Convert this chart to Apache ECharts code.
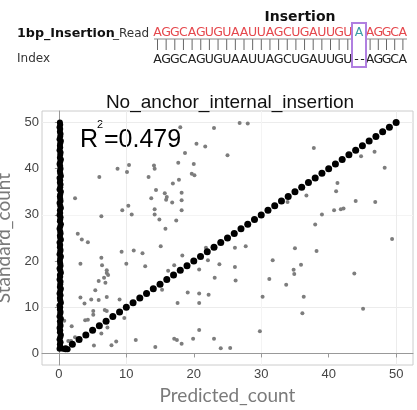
<!DOCTYPE html>
<html><head><meta charset="utf-8">
<script src="https://cdn.jsdelivr.net/npm/echarts@6/dist/echarts.min.js"></script>
<style>html,body{margin:0;padding:0;background:#fff}#c{width:417px;height:410px}</style>
</head><body><div id="c"></div>
<script>
// ---- data ----
const chartTitle = 'No_anchor_internal_insertion';
const xName = 'Predicted_count';
const yName = 'Standard_count';
const r2Text = '0.479';
const xTicks = [0, 10, 20, 30, 40, 50];
const yTicks = [0, 10, 20, 30, 40, 50];

const diagX = [1,2,3,4,5,6,7,8,9,10,11,12,13,14,15,16,17,18,19,20,21,22,23,24,25,26,27,28,29,30,31,32,33,34,35,36,37,38,39,40,41,42,43,44,45,46,47,48,49,50];
const diagY = [1,2,3,4,5,6,7,8,9,10,11,12,13,14,15,16,17,18,19,20,21,22,23,24,25,26,27,28,29,30,31,32,33,34,35,36,37,38,39,40,41,42,43,44,45,46,47,48,49,50];

const colX = [0.6,1.3,0.1,0.2,0.15,0.25,0.1,0.2,0.3,0.15,0.2,0.1,0.25,0.2,0.15,0.3,0.1,0.2,0.25,0.15,0.2,0.1,0.3,0.2,0.15,0.25,0.1,0.2,0.3,0.15,0.2,0.25,0.1,0.2,0.15,0.3,0.2,0.1,0.25,0.2,0.15,0.2,0.3,0.1,0.2,0.25,0.15,0.2,0.1,0.3,0.2,0.15,0.25,0.2,0.1,0.2,0.3,0.15,0.2,0.25,0.1,0.2,0.15,0.3,0.2,0.1,0.25,0.2,0.15,0.2,0.3,0.1,0.2,0.25,0.15,0.2,0.1,0.3,0.2,0.15,0.25,0.2,0.1,0.2,0.3,0.15,0.2,0.25,0.1,0.2,0.15,0.2,0.3,0.1,0.2,0.25,0.15,0.2,0.1,0.2,0.15];
const colY = [1,0.9,1,1.5,2,2.4,3,3.5,4,4.6,5,5.5,6,6.4,7,7.5,8,8.6,9,9.5,10,10.4,11,11.5,12,12.6,13,13.5,14,14.4,15,15.5,16,16.6,17,17.5,18,18.4,19,19.5,20,20.6,21,21.5,22,22.4,23,23.5,24,24.6,25,25.5,26,26.4,27,27.5,28,28.6,29,29.5,30,30.4,31,31.5,32,32.6,33,33.5,34,34.4,35,35.5,36,36.6,37,37.5,38,38.4,39,39.5,40,40.6,41,41.5,42,42.4,43,43.5,44,44.6,45,45.5,46,46.4,47,47.5,48,48.6,49,49.5,50];

const greyPoints = [
[18.0,49.0],[23.0,48.8],[26.8,49.9],[28.0,49.8],
[20.4,45.4],[21.7,44.8],[37.8,44.5],
[18.7,43.4],[25.0,42.9],[44.8,42.7],[46.8,43.7],
[17.7,41.3],[20.0,41.0],[10.4,40.8],[14.1,40.7],[8.7,40.0],[10.1,39.3],[14.2,40.0],[48.3,40.2],
[19.7,38.9],[20.1,38.6],[6.0,38.2],[13.3,38.2],[17.8,37.6],[16.9,36.8],[41.3,36.9],
[14.4,35.4],[15.7,34.7],[18.2,34.8],[41.1,35.1],[36.7,34.2],
[2.4,33.6],[13.7,33.6],[16.0,33.9],[15.9,33.3],[16.8,32.7],[18.2,33.2],[33.9,32.8],[44.0,33.0],[46.9,32.8],
[10.3,32.0],[9.4,31.0],[14.2,31.2],[18.2,31.0],[40.8,31.0],[41.8,31.2],[42.2,31.4],
[10.8,30.1],[6.3,29.7],[14.2,30.1],[39.0,30.1],
[14.9,29.0],[17.4,28.8],[38.0,27.9],[15.8,27.0],
[2.8,25.9],[3.4,24.7],[4.3,24.1],[49.4,24.8],
[15.1,23.2],[21.8,22.9],[26.1,22.9],[27.7,23.2],[35.0,22.8],[38.2,22.2],
[9.3,22.0],[11.1,22.3],[12.4,21.7],[6.3,20.7],[18.3,21.2],
[22.1,20.2],[31.7,20.2],
[3.2,19.4],[6.4,19.1],[10.0,19.4],[12.8,18.9],[17.1,19.1],[23.8,19.3],[26.1,18.7],[35.9,19.2],
[7.1,18.0],[7.1,17.4],[7.3,17.0],[6.7,16.4],[16.2,17.9],[20.8,18.2],[34.8,18.1],[34.9,17.2],[43.8,17.3],
[5.9,15.7],[6.9,15.3],[23.1,16.4],[26.2,15.8],[31.2,16.1],[33.7,14.9],
[5.4,13.7],[15.3,13.8],[19.1,13.2],[20.8,13.0],[22.2,12.7],
[3.2,12.1],[4.8,11.7],[5.9,11.6],[7.1,12.2],[9.0,11.7],[30.2,12.3],[36.3,12.3],
[3.8,10.8],[17.6,10.9],[20.8,10.9],
[5.1,9.2],[5.1,8.4],[6.8,9.4],[7.1,9.2],[45.1,9.7],[36.1,8.7],
[3.9,7.2],[4.3,7.3],[9.7,7.7],[0.8,7.1],
[7.2,5.6],[1.9,5.9],[20.8,5.1],[29.8,4.8],
[6.3,4.3],[2.4,3.5],
[1.8,2.7],[2.8,2.9],[1.4,2.7],[5.2,1.7],[7.8,1.8],[8.5,2.6],[11.4,2.9],[17.1,3.2],[17.5,2.9],[18.2,2.1],[19.9,3.2],[23.0,3.2],
[14.3,1.4],[24.0,1.1],[25.4,1.2]
];

// header sequences
const seqLabel = '1bp_Insertion';
const seqLabelSuffix = '_Read';
const indexLabel = 'Index';
const insertionLabel = 'Insertion';
const readLeft = 'AGGCAGUGUAAUUAGCUGAUUGU';
const readInsert = 'A';
const readRight = 'AGGCA';
const indexLeft = 'AGGCAGUGUAAUUAGCUGAUUGU';
const indexGap = '--';
const indexRight = 'AGGCA';

// ---- build ----
const chart = echarts.init(document.getElementById('c'), null, {renderer: 'canvas'});
const seqFont = '"DejaVu Sans", Verdana, sans-serif';
const g = [];
function ch(text, cx, cy, color, size, weight) {
  g.push({type: 'text', x: cx, y: cy, style: {text: text, fill: color, font: (weight || 'normal') + ' ' + size + 'px ' + seqFont, textAlign: 'center', textVerticalAlign: 'middle'}});
}
const leftStart = 157.5, leftStep = 8.65;
const rightStart = 370.1, rightStep = 8.2;
const redC = '#e5484d', rowRead = 33, rowIdx = 60, seqSize = 12.5;
for (let i = 0; i < readLeft.length; i++) ch(readLeft[i], leftStart + i * leftStep, rowRead, redC, seqSize);
ch(readInsert, 359, rowRead, '#3a9ea5', seqSize);
for (let i = 0; i < readRight.length; i++) ch(readRight[i], rightStart + i * rightStep, rowRead, redC, seqSize);
for (let i = 0; i < indexLeft.length; i++) ch(indexLeft[i], leftStart + i * leftStep, rowIdx, '#222', seqSize);
for (let i = 0; i < indexGap.length; i++) ch(indexGap[i], 356.5 + i * 6, rowIdx, '#222', seqSize);
for (let i = 0; i < indexRight.length; i++) ch(indexRight[i], rightStart + i * rightStep, rowIdx, '#222', seqSize);
// connector ticks
const tickXs = [];
for (let i = 0; i < readLeft.length; i++) tickXs.push(leftStart + i * leftStep);
for (let i = 0; i < readRight.length; i++) tickXs.push(rightStart + i * rightStep);
tickXs.forEach(x => g.push({type: 'line', shape: {x1: x, y1: 39, x2: x, y2: 50}, style: {stroke: '#666', lineWidth: 1}}));
g.push({type: 'line', shape: {x1: 154, y1: 39, x2: 352, y2: 39}, style: {stroke: '#888', lineWidth: 1}});
g.push({type: 'line', shape: {x1: 366, y1: 39, x2: 407, y2: 39}, style: {stroke: '#888', lineWidth: 1}});
g.push({type: 'rect', shape: {x: 352, y: 23, width: 14, height: 44}, style: {fill: 'none', stroke: '#b07fe0', lineWidth: 2}});
g.push({type: 'text', x: 17, y: 34, style: {text: seqLabel, fill: '#111', font: 'bold 12.7px ' + seqFont, textVerticalAlign: 'middle'}});
g.push({type: 'text', x: 113, y: 34, style: {text: seqLabelSuffix, fill: '#333', font: '12px ' + seqFont, textVerticalAlign: 'middle'}});
g.push({type: 'text', x: 17, y: 59, style: {text: indexLabel, fill: '#333', font: '12px ' + seqFont, textVerticalAlign: 'middle'}});
g.push({type: 'text', x: 300, y: 17, style: {text: insertionLabel, fill: '#111', font: 'bold 14px ' + seqFont, textAlign: 'center', textVerticalAlign: 'middle'}});
// R^2 annotation
const annFont = '"Liberation Sans", Arial, sans-serif';
g.push({type: 'text', x: 80, y: 140, style: {text: 'R', fill: '#000', font: '25px ' + annFont, textVerticalAlign: 'middle'}});
g.push({type: 'text', x: 97, y: 125, style: {text: '2', fill: '#000', font: '11px ' + annFont, textVerticalAlign: 'middle'}});
g.push({type: 'text', x: 104, y: 140, style: {text: '=' + r2Text, fill: '#000', font: '25px ' + annFont, textVerticalAlign: 'middle'}});

const splitColors = ['rgba(0,0,0,0)', '#ececec', 'rgba(0,0,0,0)', '#f4f4f4'];
function axisCommon(ticks) {
  return {
    type: 'value', min: -2.5, max: 52.5, interval: 2.5,
    axisLine: {show: true, lineStyle: {color: '#999', width: 1}},
    axisTick: {show: true, length: 4, lineStyle: {color: '#999'}, customValues: ticks},
    axisLabel: {customValues: ticks, color: '#444', fontSize: 13, fontFamily: annFont, margin: 3},
    splitLine: {show: true, lineStyle: {color: splitColors, width: 1}},
    nameLocation: 'middle',
    nameTextStyle: {color: '#7a7a7a', fontSize: 19, fontFamily: 'Lato, sans-serif'}
  };
}
const xa = axisCommon(xTicks); xa.name = xName; xa.nameGap = 19;
const ya = axisCommon(yTicks); ya.name = yName; ya.nameGap = 20;

chart.setOption({
  backgroundColor: '#fff',
  animation: false,
  title: {text: chartTitle, left: 225, top: 88, textAlign: 'center',
    textStyle: {fontSize: 19, fontWeight: 'normal', color: '#111', fontFamily: annFont}},
  grid: {left: 42, right: 4, top: 111, bottom: 45, show: true, borderColor: '#ccc', borderWidth: 1, containLabel: false, outerBoundsMode: 'none'},
  xAxis: xa,
  yAxis: ya,
  graphic: g,
  series: [
    {type: 'scatter', data: greyPoints, symbolSize: 4, itemStyle: {color: '#7d7d7d', opacity: 1}},
    {type: 'scatter', data: colX.map((x, i) => [x, colY[i]]), symbolSize: 6, itemStyle: {color: '#000', opacity: 1}},
    {type: 'scatter', data: diagX.map((x, i) => [x, diagY[i]]), symbolSize: 7, itemStyle: {color: '#000', opacity: 1}}
  ]
});
</script></body></html>
